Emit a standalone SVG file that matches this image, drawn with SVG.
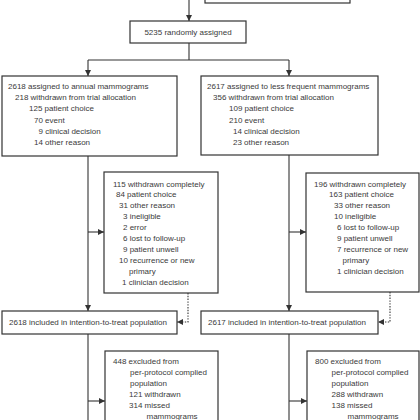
<svg xmlns="http://www.w3.org/2000/svg" width="420" height="420" viewBox="0 0 420 420">
<style>
.box{fill:#fff;stroke:#333;stroke-width:1.2}
.ln{fill:none;stroke:#333;stroke-width:1.1}
.dt{fill:none;stroke:#333;stroke-width:1.1;stroke-dasharray:1.4 1.4}
text{font-family:"Liberation Sans",Arial,sans-serif;font-size:8px;fill:#3a3a3a}
</style>
<defs>
<marker id="ah" viewBox="0 0 6 6" refX="6" refY="3" markerWidth="6" markerHeight="6" markerUnits="userSpaceOnUse" orient="auto">
<path d="M0,0 L6,3 L0,6 Z" fill="#333"/>
</marker>
</defs>
<rect width="420" height="420" fill="#fff"/>
<g id="connectors">
<path class="ln" d="M189,0 V21" marker-end="url(#ah)"/>
<path class="ln" d="M189,43 V60 M88,60 H289"/>
<path class="ln" d="M88,60 V76" marker-end="url(#ah)"/>
<path class="ln" d="M289,60 V76" marker-end="url(#ah)"/>
<path class="ln" d="M88,156 V311" marker-end="url(#ah)"/>
<path class="ln" d="M88,232 H104" marker-end="url(#ah)"/>
<path class="ln" d="M289,155 V311" marker-end="url(#ah)"/>
<path class="ln" d="M289,232 H306" marker-end="url(#ah)"/>
<path class="dt" d="M188,293 V322 H177" marker-end="url(#ah)"/>
<path class="dt" d="M390,292 V322 H378" marker-end="url(#ah)"/>
<path class="ln" d="M88,334 V420"/>
<path class="ln" d="M88,401 H105" marker-end="url(#ah)"/>
<path class="ln" d="M289,334 V420"/>
<path class="ln" d="M289,401 H307" marker-end="url(#ah)"/>
</g>
<g id="top">
<rect class="box" x="205" y="-20" width="145" height="23"/>
</g>
<g id="randomised">
<rect class="box" x="130" y="21" width="116" height="22"/>
<text x="188" y="35" text-anchor="middle">5235 randomly assigned</text>
</g>
<g id="annual">
<rect class="box" x="2" y="76" width="175" height="80"/>
<text x="8" y="89">2618 assigned to annual mammograms</text>
<text x="15" y="100.2">218 withdrawn from trial allocation</text>
<text x="29" y="111.4">125 patient choice</text>
<text x="34" y="122.6">70 event</text>
<text x="38.5" y="133.8">9 clinical decision</text>
<text x="34" y="145">14 other reason</text>
</g>
<g id="less">
<rect class="box" x="201" y="76" width="177" height="79"/>
<text x="207" y="89">2617 assigned to less frequent mammograms</text>
<text x="213" y="100.2">356 withdrawn from trial allocation</text>
<text x="229" y="111.4">109 patient choice</text>
<text x="229" y="122.6">210 event</text>
<text x="233" y="133.8">14 clinical decision</text>
<text x="233" y="145">23 other reason</text>
</g>
<g id="withdrawn-annual">
<rect class="box" x="104" y="172" width="114" height="121"/>
<text x="113" y="186.5">115 withdrawn completely</text>
<text x="116" y="197.4">84 patient choice</text>
<text x="119" y="208.3">31 other reason</text>
<text x="123" y="219.2">3 ineligible</text>
<text x="123" y="230.1">2 error</text>
<text x="123" y="241">6 lost to follow-up</text>
<text x="123" y="251.9">9 patient unwell</text>
<text x="119" y="262.8">10 recurrence or new</text>
<text x="129" y="273.7">primary</text>
<text x="122" y="284.6">1 clinician decision</text>
</g>
<g id="withdrawn-less">
<rect class="box" x="306" y="173" width="113" height="119"/>
<text x="314" y="186.5">196 withdrawn completely</text>
<text x="329" y="197.4">163 patient choice</text>
<text x="334" y="208.3">33 other reason</text>
<text x="334" y="219.2">10 ineligible</text>
<text x="337" y="230.1">6 lost to follow-up</text>
<text x="337" y="241">9 patient unwell</text>
<text x="337" y="251.9">7 recurrence or new</text>
<text x="342.5" y="262.8">primary</text>
<text x="337" y="273.7">1 clinician decision</text>
</g>
<g id="itt-annual">
<rect class="box" x="2" y="311" width="175" height="23"/>
<text x="9" y="325">2618 included in intention-to-treat population</text>
</g>
<g id="itt-less">
<rect class="box" x="201" y="311" width="177" height="23"/>
<text x="208" y="325">2617 included in intention-to-treat population</text>
</g>
<g id="excluded-annual">
<rect class="box" x="105" y="351" width="113" height="90"/>
<text x="113" y="364.2">448 excluded from</text>
<text x="130" y="375.2">per-protocol complied</text>
<text x="130" y="386.2">population</text>
<text x="129" y="397.4">121 withdrawn</text>
<text x="129" y="408.4">314 missed</text>
<text x="146.5" y="419.4">mammograms</text>
</g>
<g id="excluded-less">
<rect class="box" x="307" y="351" width="112" height="90"/>
<text x="315" y="364.2">800 excluded from</text>
<text x="331.5" y="375.2">per-protocol complied</text>
<text x="331.5" y="386.2">population</text>
<text x="331.5" y="397.4">288 withdrawn</text>
<text x="331.5" y="408.4">138 missed</text>
<text x="347.5" y="419.4">mammograms</text>
</g>
</svg>
